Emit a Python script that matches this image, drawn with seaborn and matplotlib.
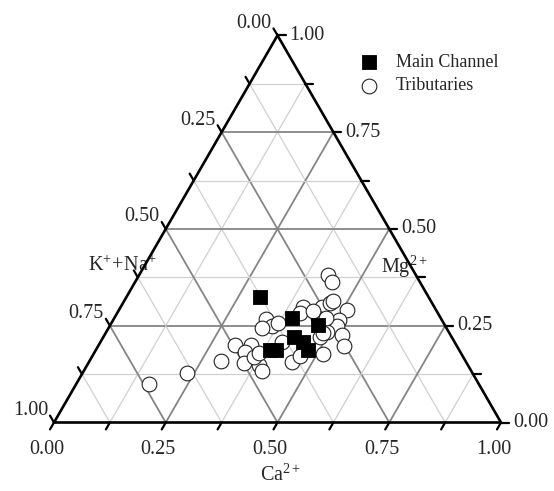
import numpy as np
import pandas as pd
import matplotlib
matplotlib.use("Agg")
import matplotlib.pyplot as plt
import seaborn as sns

# ---------------- data (ternary fractions) ----------------
main_ca = [0.300, 0.396, 0.465, 0.426, 0.453, 0.475, 0.390, 0.403]
main_mg = [0.323, 0.271, 0.252, 0.222, 0.208, 0.187, 0.186, 0.187]
main_nak = [0.377, 0.333, 0.283, 0.352, 0.339, 0.338, 0.424, 0.410]

trib_ca = [0.423, 0.442, 0.341, 0.364, 0.344, 0.304, 0.341, 0.336, 0.294, 0.348,
           0.384, 0.399, 0.362, 0.406, 0.456, 0.407, 0.408, 0.449, 0.463, 0.511,
           0.457, 0.506, 0.509, 0.493, 0.485, 0.531, 0.550, 0.513, 0.464, 0.162,
           0.233, 0.435, 0.468, 0.474, 0.487, 0.368, 0.373]
trib_mg = [0.381, 0.362, 0.267, 0.248, 0.243, 0.200, 0.200, 0.181, 0.160, 0.153,
           0.149, 0.133, 0.170, 0.209, 0.155, 0.299, 0.284, 0.299, 0.308, 0.291,
           0.269, 0.265, 0.248, 0.235, 0.220, 0.226, 0.198, 0.176, 0.172, 0.099,
           0.127, 0.288, 0.313, 0.270, 0.231, 0.179, 0.257]
trib_nak = [0.196, 0.196, 0.392, 0.388, 0.413, 0.496, 0.459, 0.483, 0.546, 0.499,
            0.467, 0.468, 0.468, 0.385, 0.389, 0.294, 0.308, 0.252, 0.229, 0.198,
            0.274, 0.229, 0.243, 0.272, 0.295, 0.243, 0.252, 0.311, 0.364, 0.739,
            0.640, 0.277, 0.219, 0.256, 0.282, 0.453, 0.370]

tick_values = [0.0, 0.125, 0.25, 0.375, 0.5, 0.625, 0.75, 0.875, 1.0]
tick_labels = ["0.00", "0.25", "0.50", "0.75", "1.00"]
axis_titles = {"bottom": r"$\mathregular{Ca^{2+}}$",
               "right": r"$\mathregular{Mg^{2+}}$",
               "left": r"$\mathregular{K^{+}\!+\!Na^{+}}$"}
legend_labels = ["Main Channel", "Tributaries"]

# ---------------- style ----------------
sns.set_theme(style="white")
plt.rcParams["font.family"] = ["Liberation Serif", "DejaVu Serif"]
plt.rcParams["mathtext.fontset"] = "custom"
plt.rcParams["mathtext.rm"] = "Liberation Serif"
plt.rcParams["mathtext.it"] = "Liberation Serif:italic"

W, H = 554, 491
fig = plt.figure(figsize=(W / 100, H / 100), dpi=100)
ax = fig.add_axes([0, 0, 1, 1])
S = 447.0
X0, Y0 = 54.0, 422.5
ax.set_xlim(-X0 / S, (W - X0) / S)
ax.set_ylim((Y0 - H) / S, Y0 / S)
ax.axis("off")

r3 = np.sqrt(3) / 2


def tern(ca, mg):
    ca = np.asarray(ca, dtype=float)
    mg = np.asarray(mg, dtype=float)
    return ca + mg / 2, mg * r3


# grid lines
for t in tick_values[1:-1]:
    major = abs((t / 0.25) - round(t / 0.25)) < 1e-9
    col = "#858585" if major else "#d0d0d0"
    lw = 1.3 if major else 0.9
    for (c1, m1), (c2, m2) in [((t, 0), (t, 1 - t)),
                               ((0, t), (1 - t, t)),
                               ((1 - t, 0), (0, 1 - t))]:
        xs, ys = tern([c1, c2], [m1, m2])
        ax.plot(xs, ys, color=col, lw=lw, zorder=1, solid_capstyle="butt")

# frame
xs, ys = tern([0, 1, 0, 0], [0, 0, 1, 0])
ax.plot(xs, ys, color="black", lw=1.9, zorder=5, solid_joinstyle="miter")

# ticks
TL = 8 / S
for t in tick_values:
    bx, by = tern(t, 0)
    ax.plot([bx, bx - 0.5 * TL], [by, by - r3 * TL], color="black", lw=1.6, zorder=5)
    rx, ry = tern(1 - t, t)
    ax.plot([rx, rx + TL], [ry, ry], color="black", lw=1.6, zorder=5)
    lx, ly = tern(0, 1 - t)
    ax.plot([lx, lx - 0.5 * TL], [ly, ly + r3 * TL], color="black", lw=1.6, zorder=5)

FS = 14.5
for i, lab in enumerate(tick_labels):
    t = i * 0.25
    bx, by = tern(t, 0)
    ax.text(bx - 7.5 / S, by - 27 / S, lab, ha="center", va="center", fontsize=FS)
    rx, ry = tern(1 - t, t)
    ax.text(rx + 12 / S, ry, lab, ha="left", va="center", fontsize=FS)
    lx, ly = tern(0, 1 - t)
    ax.text(lx - 6 / S, ly + 12 / S, lab, ha="right", va="center", fontsize=FS)

ax.text((122 - X0) / S, (Y0 - 266) / S, axis_titles["left"], ha="center", va="center", fontsize=FS)
ax.text((404 - X0) / S, (Y0 - 267) / S, axis_titles["right"], ha="center", va="center", fontsize=FS)
ax.text((280 - X0) / S, (Y0 - 475) / S, axis_titles["bottom"], ha="center", va="center", fontsize=FS)

# ---------------- data points ----------------
tx, ty = tern(trib_ca, trib_mg)
mx, my = tern(main_ca, main_mg)
df_t = pd.DataFrame({"x": tx, "y": ty, "Ca": trib_ca, "Mg": trib_mg, "KNa": trib_nak})
df_m = pd.DataFrame({"x": mx, "y": my, "Ca": main_ca, "Mg": main_mg, "KNa": main_nak})

sns.scatterplot(data=df_m, x="x", y="y", ax=ax, marker="s", s=95, color="black",
                edgecolor="black", linewidth=0.6, zorder=4, label=legend_labels[0])
sns.scatterplot(data=df_t, x="x", y="y", ax=ax, marker="o", s=112, color="white",
                edgecolor="#222222", linewidth=0.8, zorder=3, label=legend_labels[1])

ax.set_xlim(-X0 / S, (W - X0) / S)
ax.set_ylim((Y0 - H) / S, Y0 / S)
ax.set_xlabel("")
ax.set_ylabel("")

leg = ax.legend(loc="upper left", bbox_to_anchor=(358 / W, 1 - 54 / H), frameon=False,
                fontsize=13, handletextpad=0.9, labelspacing=0.35, borderaxespad=0,
                borderpad=0, handlelength=1.2)

fig.savefig("out.png", dpi=100)
